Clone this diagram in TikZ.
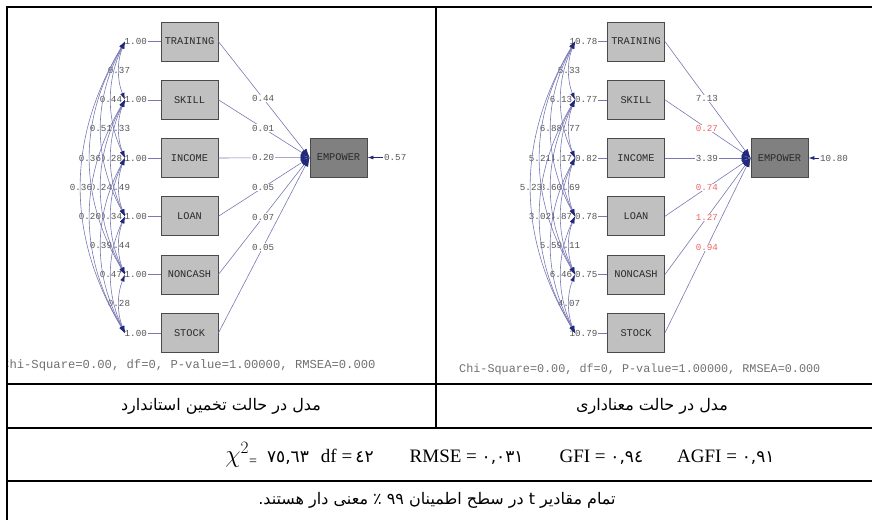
\documentclass[tikz,border=0pt]{standalone}
\usepackage{fontspec}
\setmainfont{Liberation Serif}
\newfontfamily\lisrelfont{Liberation Mono}
\newfontfamily\arabicfont[Script=Arabic]{DejaVu Sans}
\newfontfamily\indicdigits{DejaVu Sans}
\TeXXeTstate=1
\usetikzlibrary{arrows.meta,calc}
\definecolor{boxfill}{HTML}{C0C0C0}
\definecolor{empfill}{HTML}{808080}
\definecolor{boxedge}{HTML}{4A4A4A}
\definecolor{boxtext}{HTML}{2A2A2A}
\definecolor{numtext}{HTML}{555555}
\definecolor{edgeline}{HTML}{7878B4}
\definecolor{headc}{HTML}{22287A}
\definecolor{redval}{HTML}{F06464}
\definecolor{fittext}{HTML}{707070}
\begin{document}
\begin{tikzpicture}[x=1pt,y=-1pt,
  varbox/.style={draw=boxedge,fill=boxfill,line width=0.8pt,minimum width=57pt,minimum height=39pt,inner sep=0pt,
    font=\lisrelfont\fontsize{10.3}{12}\selectfont,text=boxtext},
  num/.style={font=\lisrelfont\fontsize{9.2}{11}\selectfont,text=numtext,inner sep=0.6pt},
  clbl/.style={num,fill=white},
  plbl/.style={num,fill=white,pos=0.49},
  sline/.style={draw=edgeline,line width=0.6pt},
  covarc/.style={sline,{Latex[length=7pt,width=4.5pt,color=headc]}-{Latex[length=7pt,width=4.5pt,color=headc]}},
  patharrow/.style={sline,-{Latex[length=9pt,width=6pt,color=headc]}},
  errarrow/.style={draw=headc,line width=0.8pt,-{Latex[length=6pt,width=4pt,color=headc]}},
  fitstat/.style={font=\lisrelfont\fontsize{11.8}{14}\selectfont,text=fittext,inner sep=0pt},
  rule/.style={draw=black,line width=2pt},
  caption/.style={font=\arabicfont\fontsize{16}{19}\selectfont,inner sep=0pt}]
\useasboundingbox (0,0) rectangle (872,520);

% observed variables, both panels
\foreach \n/\t/\yy in {1/TRAINING/41.5,2/SKILL/99.8,3/INCOME/158,4/LOAN/216.3,5/NONCASH/274.5,6/STOCK/333} {
  \node[varbox] (Lb\n) at (189.5,\yy) {\t};
  \node[varbox] (Rb\n) at (636,\yy) {\t};
  \coordinate (Lc\n) at (125,\yy);
  \coordinate (Rc\n) at (575,\yy);
}
\node[varbox,fill=empfill] (Lemp) at (338.5,157.5) {EMPOWER};
\node[varbox,fill=empfill] (Remp) at (779.5,158) {EMPOWER};

% variances
\foreach \n/\v/\w in {1/1.00/10.78,2/1.00/10.77,3/1.00/10.82,4/1.00/10.78,5/1.00/10.75,6/1.00/10.79} {
  \node[num,fill=white,anchor=east] (Lv\n) at ($(Lb\n.west)+(-13,0)$) {\v};
  \draw[sline] (Lv\n.east) -- (Lb\n.west);
  \node[num,fill=white,anchor=east] (Rv\n) at ($(Rb\n.west)+(-9,0)$) {\w};
  \draw[sline] (Rv\n.east) -- (Rb\n.west);
}

% covariance labels (standardized / t-values)
\foreach \i/\j/\b/\l/\r in {
  1/2/6/0.37/5.33, 2/3/6/0.33/4.77, 3/4/6/0.49/6.69, 4/5/6/0.44/6.11, 5/6/6/0.28/4.07,
  1/3/14/0.44/6.13, 2/4/14/0.28/4.17, 3/5/14/0.34/4.87, 4/6/14/0.47/6.46,
  1/4/24/0.51/6.88, 2/5/24/0.24/3.60, 3/6/24/0.39/5.59,
  1/5/35/0.36/5.21, 2/6/35/0.20/3.02,
  1/6/44/0.36/5.23} {
  \node[clbl] (Lk\i\j) at ($(Lc\i)!0.5!(Lc\j)+(-\b,0)$) {\l};
  \node[clbl] (Rk\i\j) at ($(Rc\i)!0.5!(Rc\j)+(-\b,0)$) {\r};
}

% covariance arcs
\foreach \i/\j/\b in {1/2/6,2/3/6,3/4/6,4/5/6,5/6/6,1/3/14,2/4/14,3/5/14,4/6/14,1/4/24,2/5/24,3/6/24,1/5/35,2/6/35,1/6/44} {
  \pgfmathsetmacro\k{4*\b/3}
  \pgfmathsetmacro\h{58.3*(\j-\i)/3}
  \draw[covarc] (Lc\i) .. controls ($(Lc\i)+(-\k,\h)$) and ($(Lc\j)+(-\k,-\h)$) .. (Lc\j);
  \draw[covarc] (Rc\i) .. controls ($(Rc\i)+(-\k,\h)$) and ($(Rc\j)+(-\k,-\h)$) .. (Rc\j);
}

% structural paths
\foreach \n/\l/\r/\rc in {1/0.44/7.13/numtext,2/0.01/0.27/redval,3/0.20/3.39/numtext,4/0.05/0.74/redval,5/0.07/1.27/redval,6/0.05/0.94/redval} {
  \draw[patharrow] (Lb\n.east) -- node[plbl] (Lp\n) {\l} (Lemp.west);
  \draw[patharrow] (Rb\n.east) -- node[plbl,text=\rc] (Rp\n) {\r} (Remp.west);
}

% error terms
\node[num,anchor=west] (Le) at ($(Lemp.east)+(16,0)$) {0.57};
\draw[errarrow] (Le.west) -- (Lemp.east);
\node[num,anchor=west] (Re) at ($(Remp.east)+(11,0)$) {10.80};
\draw[errarrow] (Re.west) -- (Remp.east);

% fit statistics (left one is clipped by its cell)
\begin{scope}
  \clip (7,7) rectangle (436,384);
  \node[fitstat,font=\lisrelfont\fontsize{12.2}{14}\selectfont,anchor=base west] (Lfit) at (2,368.5) {Chi-Square=0.00, df=0, P-value=1.00000, RMSEA=0.000};
\end{scope}
\node[fitstat,anchor=base west] (Rfit) at (459,372.5) {Chi-Square=0.00, df=0, P-value=1.00000, RMSEA=0.000};

% table rules
\draw[rule] (6,7) -- (872,7);
\draw[rule] (7,6) -- (7,520);
\draw[rule] (436,7) -- (436,428);
\draw[rule] (7,384) -- (872,384);
\draw[rule] (7,428) -- (872,428);
\draw[rule] (7,481) -- (872,481);

% captions
\node[caption] (capL) at (221,406) {\beginR مدل در حالت تخمین استاندارد\endR};
\node[caption] (capR) at (652,406) {\beginR مدل در حالت معناداری\endR};
\node[inner sep=0pt,font=\fontsize{19}{22}\selectfont] (fitline) at (500,455)
  {{\fontsize{26}{26}\selectfont$\chi^{2}$}\raisebox{-3pt}{\fontsize{14}{14}\selectfont =}\hspace{10pt}{\indicdigits\fontsize{17}{20}\selectfont ٧٥,٦٣}\hspace{12pt}df =\,{\indicdigits\fontsize{17}{20}\selectfont ٤٢}\hspace{36pt}RMSE = {\indicdigits\fontsize{17}{20}\selectfont ٠,٠٣١}\hspace{36pt}GFI = {\indicdigits\fontsize{17}{20}\selectfont ٠,٩٤}\hspace{34pt}AGFI = {\indicdigits\fontsize{17}{20}\selectfont ٠,٩١}};
\node[caption] (note) at (437,500) {\beginR تمام مقادیر t در سطح اطمینان ٩٩ ٪ معنی دار هستند.\endR};
\end{tikzpicture}
\end{document}
